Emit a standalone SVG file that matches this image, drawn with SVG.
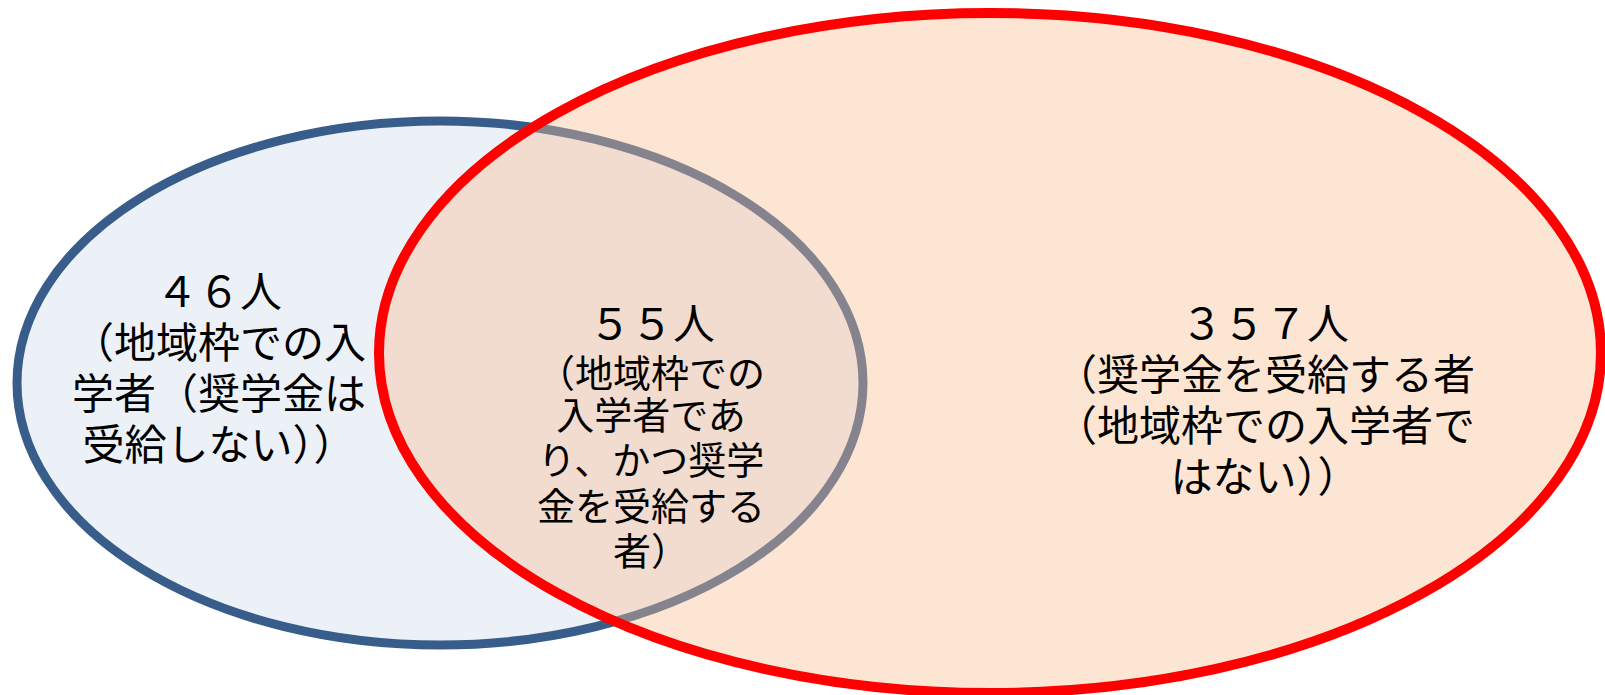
<svg xmlns="http://www.w3.org/2000/svg" width="1605" height="695" viewBox="0 0 1605 695">
  <style>
    .lbl { font-family: "Noto Sans CJK JP", "Noto Sans", sans-serif; fill: #000000; text-anchor: middle; }
    .big { font-size: 42px; }
    .mid { font-size: 38px; }
  </style>
  <rect x="0" y="0" width="1605" height="695" fill="#ffffff"/>
  <g id="set-local-quota">
    <ellipse cx="440" cy="383" rx="423" ry="262" fill="#ECF1F8" stroke="#385D8A" stroke-width="9"/>
  </g>
  <g id="set-scholarship">
    <ellipse cx="990" cy="353" rx="611" ry="340" fill="rgb(250,190,145)" fill-opacity="0.4" stroke="#FF0000" stroke-width="10"/>
  </g>
  <g id="label-local-only">
    <text class="lbl big" x="219" y="307">４６人</text>
    <text class="lbl big" x="219" y="358">（地域枠での入</text>
    <text class="lbl big" x="219" y="409">学者（奨学金は</text>
    <text class="lbl big" x="219" y="460">受給しない））</text>
  </g>
  <g id="label-both">
    <text class="lbl big" x="652" y="339">５５人</text>
    <text class="lbl mid" x="651" y="387">（地域枠での</text>
    <text class="lbl mid" x="651" y="429">入学者であ</text>
    <text class="lbl mid" x="651" y="474">り、かつ奨学</text>
    <text class="lbl mid" x="651" y="520">金を受給する</text>
    <text class="lbl mid" x="651" y="565">者）</text>
  </g>
  <g id="label-scholarship-only">
    <text class="lbl big" x="1265" y="339">３５７人</text>
    <text class="lbl big" x="1265" y="390">（奨学金を受給する者</text>
    <text class="lbl big" x="1265" y="441">（地域枠での入学者で</text>
    <text class="lbl big" x="1265" y="492">はない））</text>
  </g>
  <g id="connectors"/>
</svg>
